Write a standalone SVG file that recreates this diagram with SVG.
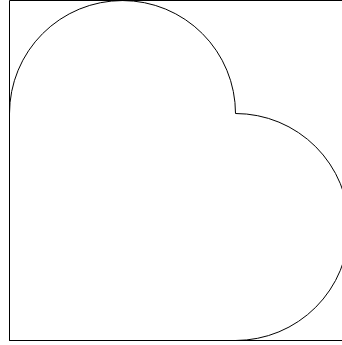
<svg xmlns="http://www.w3.org/2000/svg" width="342" height="345" viewBox="0 0 342 345">
<style>.s{fill:none;stroke:#000;stroke-width:1}</style>
<rect width="342" height="345" fill="#fff"/>
<g id="frame"><path class="s" d="M342,0.5 H9.5 V340.5 H342"/></g>
<g id="heart"><path class="s" d="M9.5,340.5 V113.5 A113,113 0 0 1 235.5,113.5 A113.5,113.5 0 0 1 235.5,340.5 Z"/></g>
</svg>
